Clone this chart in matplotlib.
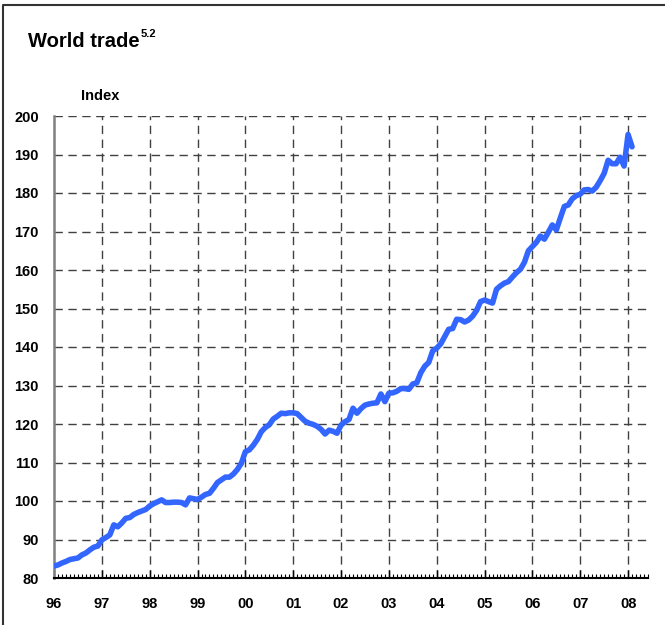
import numpy as np
import matplotlib
matplotlib.use("Agg")
import matplotlib.pyplot as plt
from matplotlib.lines import Line2D
from matplotlib.ticker import MultipleLocator, FixedLocator

plt.rcParams['font.family'] = ['Liberation Sans', 'DejaVu Sans']

# Monthly world trade index, Jan 1996 - Feb 2008
trade_index = [
    83.1, 83.4, 83.9, 84.3, 84.8, 85.0, 85.2, 86.0, 86.5, 87.3, 88.0, 88.3,   # 1996
    89.9, 90.5, 91.2, 93.8, 93.3, 94.3, 95.5, 95.7, 96.5, 97.0, 97.4, 97.8,   # 1997
    98.7, 99.3, 99.8, 100.3, 99.6, 99.6, 99.7, 99.7, 99.6, 99.0, 100.8, 100.6,  # 1998
    100.4, 101.0, 101.7, 102.0, 103.3, 104.8, 105.5, 106.2, 106.2, 107.0, 108.2, 109.8,  # 1999
    112.8, 113.3, 114.5, 116.0, 118.0, 119.1, 119.8, 121.3, 122.0, 122.8, 122.7, 122.9,  # 2000
    122.9, 122.7, 121.7, 120.7, 120.2, 119.9, 119.4, 118.6, 117.4, 118.4, 118.1, 117.6,  # 2001
    119.7, 120.6, 121.2, 124.1, 122.8, 124.0, 124.9, 125.2, 125.4, 125.5, 127.8, 125.8,  # 2002
    128.0, 128.1, 128.5, 129.2, 129.2, 129.0, 130.4, 130.7, 133.3, 135.0, 136.0, 139.0,  # 2003
    139.7, 140.8, 142.7, 144.6, 144.8, 147.2, 147.1, 146.5, 147.0, 148.0, 149.5, 151.8,  # 2004
    152.2, 151.8, 151.4, 155.0, 155.9, 156.6, 157.0, 158.2, 159.3, 160.2, 162.0, 165.0,  # 2005
    166.1, 167.2, 168.8, 168.0, 169.8, 171.7, 170.4, 173.5, 176.5, 176.9, 178.5, 179.3,  # 2006
    179.7, 180.8, 180.9, 180.5, 181.5, 183.2, 185.1, 188.5, 187.6, 187.6, 189.3, 187.0,  # 2007
    195.2, 192.0,  # 2008
]
start_year = 1996
year_labels = ['96', '97', '98', '99', '00', '01', '02', '03', '04', '05', '06', '07', '08']
y_ticks = [80, 90, 100, 110, 120, 130, 140, 150, 160, 170, 180, 190, 200]

n = len(trade_index)
x = start_year + np.arange(n) / 12.0

W, H = 665, 625
fig = plt.figure(figsize=(W / 100, H / 100), dpi=100)
ax = fig.add_axes([54 / W, 1 - 578 / H, (648 - 54) / W, (578 - 116) / H])

ax.plot(x, trade_index, color='#3366FF', lw=4.0, solid_joinstyle='round',
        solid_capstyle='round', zorder=3)

ax.set_xlim(1996, 2008 + 5 / 12)
ax.set_ylim(80, 200)

year_pos = [start_year + i for i in range(len(year_labels))]
ax.xaxis.set_major_locator(FixedLocator(year_pos))
ax.set_xticklabels(year_labels)
ax.xaxis.set_minor_locator(MultipleLocator(1 / 12))
ax.set_yticks(y_ticks)
ax.set_yticklabels([str(v) for v in y_ticks])

for lbl in ax.get_xticklabels() + ax.get_yticklabels():
    lbl.set_fontweight('bold')
    lbl.set_fontsize(10.5)

ax.tick_params(axis='x', which='major', direction='in', length=6, width=1,
               color='black', pad=14)
ax.tick_params(axis='x', which='minor', direction='in', length=3, width=0.8,
               color='black')
ax.tick_params(axis='y', which='both', length=0, pad=11)

# grid lines (dashed)
for xv in year_pos[1:]:
    ax.axvline(xv, color='#404040', lw=1.0, ls=(0, (6, 4)), zorder=1)
for yv in y_ticks[1:]:
    ax.axhline(yv, color='#404040', lw=1.0, ls=(0, (6, 4)), zorder=1)

for s in ['top', 'right']:
    ax.spines[s].set_visible(False)
ax.spines['left'].set_color('#808080')
ax.spines['left'].set_linewidth(1.8)
ax.spines['bottom'].set_color('black')
ax.spines['bottom'].set_linewidth(1.5)

# titles
fig.text(28 / W, 1 - 47 / H, 'World trade', fontsize=14.5, fontweight='bold',
         ha='left', va='baseline')
fig.text(141 / W, 1 - 37 / H, '5.2', fontsize=8, fontweight='bold',
         ha='left', va='baseline')
fig.text(81 / W, 1 - 100 / H, 'Index', fontsize=10.5, fontweight='bold',
         ha='left', va='baseline')

# outer frame (left and top edges)
fig.add_artist(Line2D([2.5 / W, 2.5 / W, 1], [0, 1 - 5 / H, 1 - 5 / H],
                      transform=fig.transFigure, color='#333333', lw=1.5))

fig.savefig('out.png', dpi=100)
